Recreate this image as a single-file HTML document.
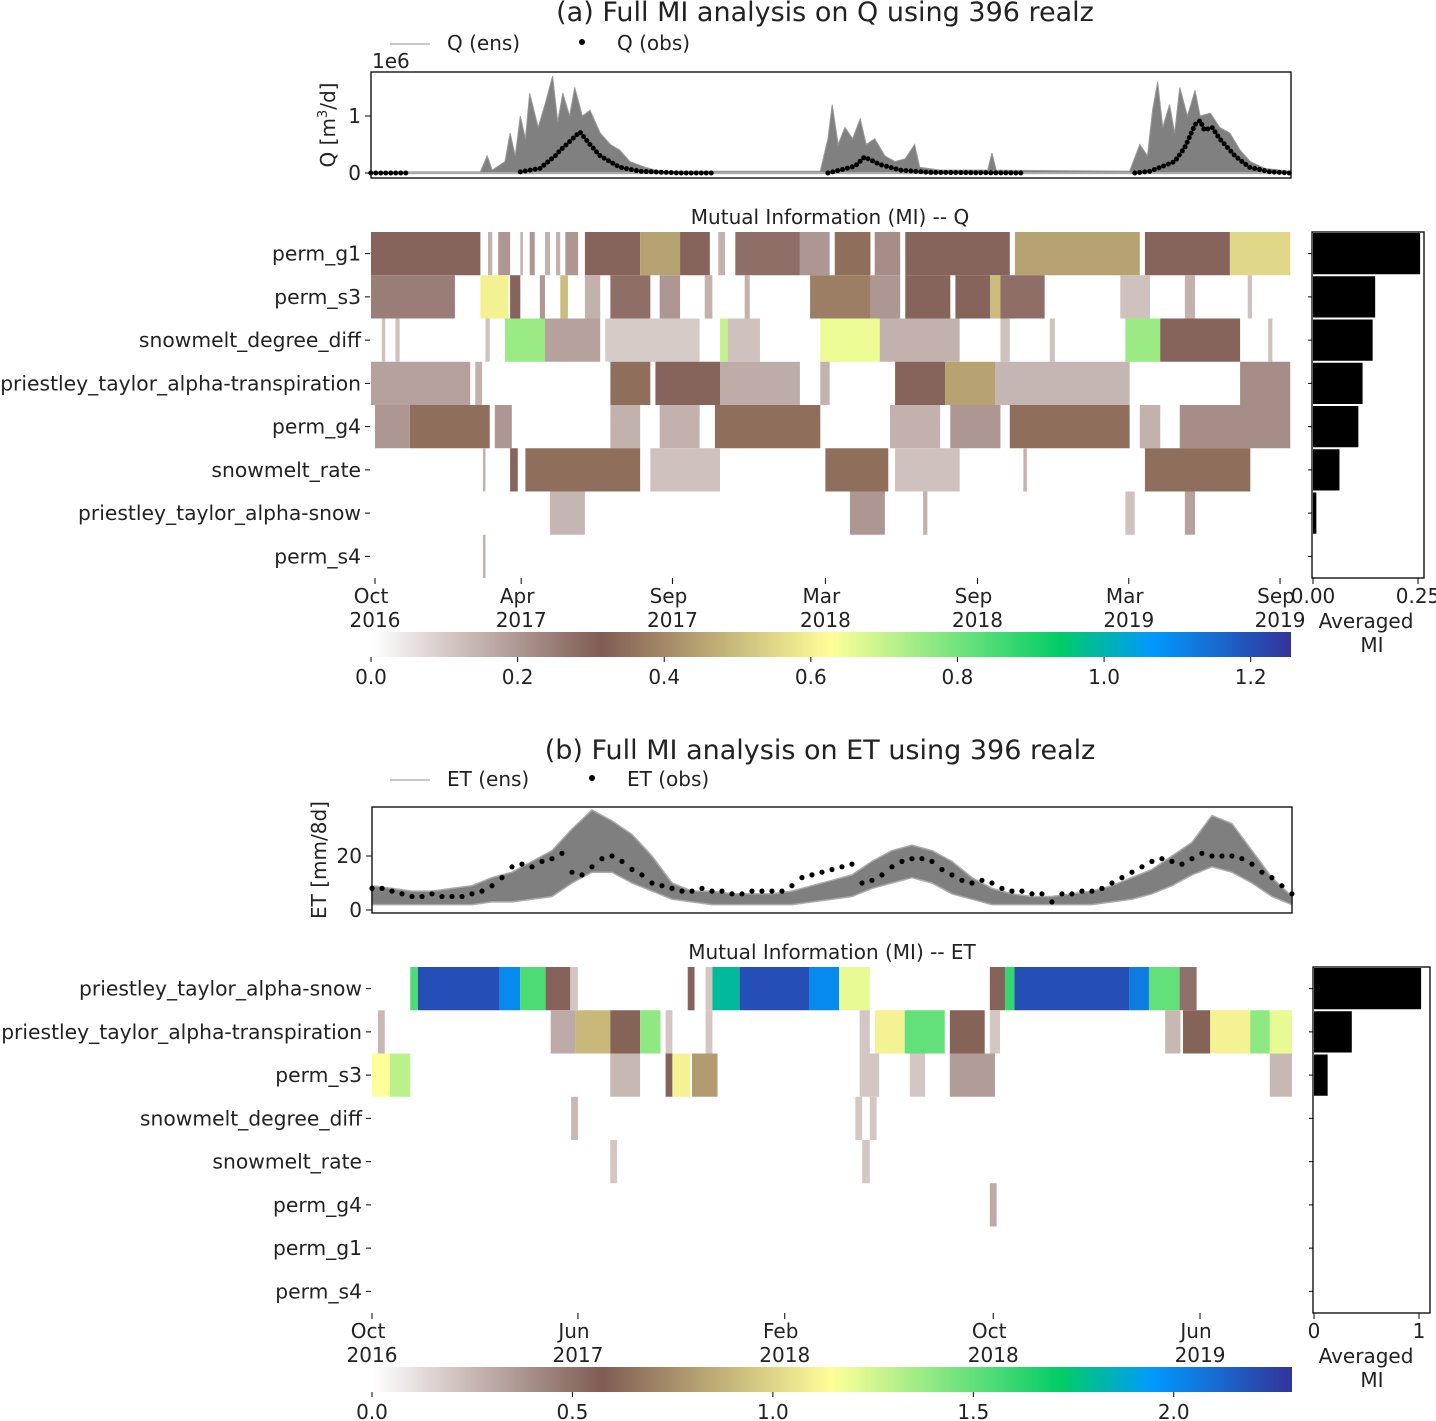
<!DOCTYPE html>
<html><head><meta charset="utf-8">
<style>
html,body{margin:0;padding:0;background:#fff;}
svg{display:block;font-family:"DejaVu Sans","Liberation Sans",sans-serif;}
</style></head>
<body>
<svg id="fig" width="1436" height="1421" viewBox="0 0 1436 1421" xmlns="http://www.w3.org/2000/svg">
<defs>
<linearGradient id="cmapA" x1="0" x2="1" y1="0" y2="0"></linearGradient>
<linearGradient id="cmapB" x1="0" x2="1" y1="0" y2="0"></linearGradient>
</defs>
</svg>
<script>
// ---------- DATA ----------
const paramsA = ["perm_g1","perm_s3","snowmelt_degree_diff","priestley_taylor_alpha-transpiration","perm_g4","snowmelt_rate","priestley_taylor_alpha-snow","perm_s4"];
const avgMiA = [0.255,0.148,0.142,0.118,0.108,0.063,0.008,0.0];
const paramsB = ["priestley_taylor_alpha-snow","priestley_taylor_alpha-transpiration","perm_s3","snowmelt_degree_diff","snowmelt_rate","perm_g4","perm_g1","perm_s4"];
const avgMiB = [1.02,0.36,0.13,0.0,0.0,0.0,0.0,0.0];
// heatmap segments: [startDay, endDay, MI]
const segsA = [
 [[-5,124,0.3],[133,138,0.15],[145,159,0.2],[171,174,0.15],[182,188,0.2],[200,206,0.15],[213,218,0.15],[224,239,0.2],[247,312,0.3],[312,359,0.45],[359,394,0.3],[404,412,0.15],[424,500,0.28],[500,535,0.2],[541,583,0.35],[588,618,0.22],[624,747,0.3],[753,900,0.45],[906,1006,0.3],[1006,1077,0.55]],
 [[-5,94,0.25],[124,157,0.6],[159,171,0.3],[194,200,0.2],[218,227,0.5],[247,265,0.15],[277,324,0.28],[335,359,0.2],[388,397,0.15],[435,441,0.15],[512,583,0.38],[583,618,0.2],[624,677,0.3],[683,724,0.3],[724,736,0.5],[736,788,0.28],[877,912,0.12],[953,965,0.15],[1027,1032,0.12]],
 [[8,12,0.12],[24,29,0.12],[130,135,0.12],[153,200,0.75],[200,265,0.18],[271,382,0.1],[406,415,0.7],[415,453,0.12],[524,594,0.65],[594,688,0.15],[736,747,0.12],[794,800,0.12],[883,924,0.75],[924,1018,0.3],[1051,1056,0.12]],
 [[-5,112,0.18],[118,126,0.15],[277,324,0.35],[330,406,0.3],[406,500,0.16],[524,535,0.15],[612,671,0.3],[671,730,0.45],[730,888,0.14],[1018,1077,0.22]],
 [[0,41,0.2],[41,135,0.35],[141,161,0.2],[277,312,0.15],[335,382,0.15],[400,524,0.35],[606,665,0.15],[677,736,0.2],[747,888,0.35],[900,924,0.15],[947,1077,0.22]],
 [[127,130,0.15],[159,168,0.3],[177,312,0.35],[324,406,0.12],[530,604,0.35],[612,688,0.12],[763,767,0.15],[906,1030,0.35]],
 [[206,247,0.14],[559,600,0.2],[645,650,0.15],[883,894,0.12],[953,965,0.18]],
 [[127,130,0.15]]
];
const segsB = [
 [[45,54,1.55],[54,150,2.2],[150,174,2.0],[174,204,1.55],[204,233,0.55],[233,242,0.2],[371,379,0.55],[392,400,0.2],[400,432,1.8],[432,514,2.2],[514,549,2.0],[549,585,1.2],[726,744,0.55],[744,755,1.6],[755,890,2.2],[890,913,2.05],[913,949,1.5],[949,969,0.5]],
 [[7,15,0.25],[210,239,0.3],[239,280,0.9],[280,315,0.6],[315,339,1.4],[345,353,0.2],[392,400,0.2],[573,585,0.2],[591,626,1.1],[626,673,1.5],[679,720,0.6],[726,738,0.2],[932,950,0.25],[953,985,0.6],[985,1032,1.1],[1032,1055,1.4],[1055,1081,1.2]],
 [[0,21,1.15],[21,45,1.3],[280,315,0.25],[345,353,0.55],[353,374,1.1],[376,406,0.8],[573,596,0.2],[632,650,0.2],[679,732,0.35],[1055,1081,0.25]],
 [[234,242,0.25],[568,576,0.2],[585,593,0.2]],
 [[280,288,0.2],[576,585,0.2]],
 [[726,734,0.3]],
 [],
 []
];
// Q series (days since 1 Oct 2016, values in 1e6 m3/d)
const qEnsDays = [-5,124,132,138,153,159,165,171,177,182,192,200,209,215,221,229,235,244,253,265,277,288,300,318,335,524,533,538,545,553,562,571,578,588,600,612,624,635,641,665,721,726,731,888,900,909,915,921,927,935,941,947,956,965,971,983,994,1006,1018,1030,1047,1077];
const qEnsMax = [0.02,0.02,0.3,0.05,0.2,0.7,0.3,1.0,0.6,1.4,0.8,1.2,1.7,0.9,1.4,1.0,1.5,1.0,1.1,0.7,0.5,0.4,0.2,0.1,0.03,0.03,0.6,1.2,0.5,0.8,0.6,0.95,0.5,0.6,0.3,0.2,0.25,0.5,0.1,0.05,0.05,0.35,0.05,0.03,0.5,0.3,1.1,1.6,0.8,1.2,0.7,1.5,1.0,1.45,1.0,1.05,0.8,0.7,0.4,0.2,0.08,0.03];
const qObsDays = [-5,42,null,171,194,212,218,229,241,253,265,288,312,359,400,null,533,547,565,576,594,618,653,761,null,894,912,924,941,953,965,971,976,985,994,1012,1029,1053,1077];
const qObsVals = [0,0,null,0.02,0.08,0.3,0.4,0.55,0.72,0.5,0.3,0.1,0.03,0,0,null,0,0.05,0.12,0.28,0.15,0.05,0.01,0,null,0,0.03,0.1,0.2,0.45,0.85,0.92,0.75,0.8,0.6,0.3,0.1,0.02,0];
// ET series (mm/8d)
const etEnsStep = 23.5;
const etEnsMax = [9,8,7,7,8,9,12,14,18,22,30,37,33,28,20,10,7,7,6,6,6,7,9,11,13,18,22,24,22,18,12,8,6,5,5,6,7,9,12,15,20,25,35,32,22,12,5];
const etEnsMin = [2,2,2,2,2,2,3,3,4,5,10,14,14,10,7,4,3,2,2,2,2,2,3,4,5,8,10,12,10,6,4,2,2,2,2,2,2,3,4,6,9,13,16,14,10,5,2];
const etObsStep = 11.75;
const etObsVals = [8,8,7,6,5,5,6,5,5,5,6,7,9,12,16,17,16,18,19,21,14,13,16,19,20,18,15,13,10,9,8,7,7,8,7,7,6,6,7,7,7,7,9,12,13,14,15,16,17,10,11,13,16,18,19,19,18,15,13,11,10,11,10,8,7,7,6,6,3,6,6,7,7,8,10,12,14,16,18,19,18,17,19,21,20,20,20,19,17,14,12,9,6];
const tickLabelsA = [["Oct","2016",0],["Apr","2017",172],["Sep","2017",350],["Mar","2018",530],["Sep","2018",709],["Mar","2019",887],["Sep","2019",1065]];
const tickLabelsB = [["Oct","2016",0],["Jun","2017",242],["Feb","2018",485],["Oct","2018",730],["Jun","2019",973]];
const cbTicksA = [0,0.2,0.4,0.6,0.8,1.0,1.2];
const cbTicksB = [0,0.5,1.0,1.5,2.0];

// ---------- HELPERS ----------
const NS="http://www.w3.org/2000/svg";
const svg=document.getElementById('fig');
function mk(tag,attrs,parent){const e=document.createElementNS(NS,tag);for(const k in attrs)e.setAttribute(k,attrs[k]);(parent||svg).appendChild(e);return e;}
function txt(s,x,y,size,anchor,parent){const e=mk('text',{x:x,y:y,'font-size':size,'text-anchor':anchor||'start',fill:'#222'},parent);e.textContent=s;return e;}
const stops=[[0,[255,255,255]],[0.25,[128,92,84]],[0.5,[255,255,153]],[0.75,[0,204,102]],[0.85,[0,153,255]],[1,[51,51,153]]];
function cmap(t){t=Math.max(0,Math.min(1,t));for(let i=1;i<stops.length;i++){if(t<=stops[i][0]){const a=stops[i-1],b=stops[i];const f=(t-a[0])/(b[0]-a[0]);const c=a[1].map((v,j)=>Math.round(v+(b[1][j]-v)*f));return `rgb(${c[0]},${c[1]},${c[2]})`;}}return 'rgb(51,51,153)';}
['cmapA','cmapB'].forEach(id=>{const g=document.getElementById(id);stops.forEach(s=>{mk('stop',{offset:s[0],'stop-color':`rgb(${s[1].join(',')})`},g);});});

function panel(cfg){
  const G=mk('g',{});
  
  
  const xs=d=>cfg.x0+(d-cfg.d0)*cfg.pxPerDay;
  const t=txt(cfg.title,cfg.titleX,cfg.titleY,27,'middle',G);
  
  
  const lg=mk('g',{},G);
  
  
  const ll=mk('line',{x1:390,x2:430,y1:cfg.legY-6,y2:cfg.legY-6,stroke:'#c8c8c8','stroke-width':2},lg);
  
  
  const l1=txt(cfg.legEns,447,cfg.legY,20,'start',lg);
  
  
  const ld=mk('circle',{cx:cfg.legDotX,cy:cfg.legY-8,r:3,fill:'#000'},lg);
  
  
  const l2=txt(cfg.legObs,cfg.legDotX+35,cfg.legY,20,'start',lg);
  
  
  const ts=mk('g',{},G);
  
  
  const tb=cfg.ts;
  const ys=v=>tb.y0-v*tb.pxPerUnit;
  cfg.drawSeries(ts,xs,ys);
  const box=mk('rect',{x:cfg.x0b,y:tb.top,width:920,height:tb.bottom-tb.top,fill:'none',stroke:'#000','stroke-width':1.3},ts);
  
  
  tb.ticks.forEach(v=>{
    const tk=mk('line',{x1:cfg.x0b-6,x2:cfg.x0b,y1:ys(v),y2:ys(v),stroke:'#000'},ts);
    
    
    const tl=txt(String(v),cfg.x0b-10,ys(v)+7,20,'end',ts);
    
    
  });
  if(tb.exp){const e=txt(tb.exp,372,68,20,'start',ts);}
  const yl=mk('text',{x:0,y:0,'font-size':20,'text-anchor':'middle',fill:'#222',transform:`translate(${tb.labX},${(tb.top+tb.bottom)/2}) rotate(-90)`},ts);
  yl.innerHTML=tb.label;
  
  
  const hm=mk('g',{},G);
  
  
  const ht=txt(cfg.hmTitle,cfg.hmTitleX,cfg.hTop-8,20,'middle',hm);
  
  
  const rh=(cfg.hBot-cfg.hTop)/8;
  cfg.params.forEach((p,i)=>{
    const y=cfg.hTop+i*rh;
    cfg.segs[i].forEach(s=>{
      const x1=Math.max(cfg.x0b,xs(s[0])),x2=Math.min(cfg.x0b+920,xs(s[1]));
      const r=mk('rect',{x:x1,y:y,width:Math.max(1.5,x2-x1),height:rh,fill:cmap(s[2]/cfg.cmax)},hm);
      
      
    });
    const tk=mk('line',{x1:cfg.x0b-6,x2:cfg.x0b-1,y1:y+rh/2,y2:y+rh/2,stroke:'#000'},hm);
    
    
    const lb=txt(p,cfg.x0b-10,y+rh/2+7,20.3,'end',hm);
    
    
  });
  cfg.xticks.forEach(tk=>{
    const x=xs(tk[2]);
    const m=mk('line',{x1:x,x2:x,y1:cfg.hBot,y2:cfg.hBot+6,stroke:'#000'},hm);
    
    
    const a=txt(tk[0],x-4,cfg.hBot+25,20,'middle',hm);
    
    
    const b=txt(tk[1],x,cfg.hBot+49,20,'middle',hm);
    
    
  });
  const bc=mk('g',{},G);
  
  
  const bx0=cfg.bar.x0, bs=cfg.bar.pxPerUnit;
  cfg.avg.forEach((v,i)=>{
    const y=cfg.hTop+i*rh;
    if(v>0){const b=mk('rect',{x:bx0,y:y+1,width:v*bs,height:rh-2,fill:'#000'},bc);
    
    }
    const tk=mk('line',{x1:bx0-5,x2:bx0-1,y1:y+rh/2,y2:y+rh/2,stroke:'#000'},bc);
    
    
  });
  const bf=mk('rect',{x:bx0-1,y:cfg.hTop,width:cfg.bar.w,height:cfg.hBot-cfg.hTop,fill:'none',stroke:'#000','stroke-width':1.3},bc);
  
  
  cfg.bar.ticks.forEach(t=>{
    const x=bx0+t[0]*bs;
    const m=mk('line',{x1:x,x2:x,y1:cfg.hBot,y2:cfg.hBot+6,stroke:'#000'},bc);
    
    
    const l=txt(t[1],x,cfg.hBot+25,20,'middle',bc);
    
    
  });
  const a1=txt('Averaged',1366,cfg.hBot+50,20,'middle',bc);
  
  
  const a2=txt('MI',1372,cfg.hBot+74,20,'middle',bc);
  
  
  const cb=mk('g',{},G);
  
  
  const cr=mk('rect',{x:cfg.x0b,y:cfg.cbY,width:920,height:25,fill:`url(#${cfg.grad})`},cb);
  
  
  cfg.cbTicks.forEach(v=>{
    const x=cfg.x0b+v/cfg.cmax*920;
    const m=mk('line',{x1:x,x2:x,y1:cfg.cbY+25,y2:cfg.cbY+30,stroke:'#000'},cb);
    
    
    const l=txt(v.toFixed(1),x,cfg.cbY+52,20,'middle',cb);
    
    
  });
}

panel({name:'panel-a-q',title:'(a) Full MI analysis on Q using 396 realz',titleX:825,titleY:21,
  legY:50,legEns:'Q (ens)',legObs:'Q (obs)',legDotX:582,
  x0:375,d0:0,pxPerDay:0.8498,x0b:371,
  ts:{top:72,bottom:178,y0:173,pxPerUnit:57,ticks:[0,1],exp:'1e6',labX:335,label:'Q [m<tspan font-size="13" dy="-8">3</tspan><tspan dy="8">/d]</tspan>'},
  drawSeries:(g,xs,ys)=>{
    let d=`M${xs(qEnsDays[0])},${ys(-0.01)}`;
    qEnsDays.forEach((dd,i)=>{d+=` L${xs(dd)},${ys(qEnsMax[i])}`;});
    d+=` L${xs(qEnsDays[qEnsDays.length-1])},${ys(-0.01)} Z`;
    const p=mk('path',{d:d,fill:'#808080',stroke:'#999','stroke-width':1},g);
    
    
    const base=mk('line',{x1:371,x2:1291,y1:ys(0),y2:ys(0),stroke:'#aaa','stroke-width':2},g);
    
    
    let seg=[];const flush=()=>{if(seg.length>1){const pl=mk('polyline',{points:seg.join(' '),fill:'none',stroke:'#000','stroke-width':5,'stroke-linecap':'round','stroke-dasharray':'0 5'},g);
      
      }seg=[];};
    qObsDays.forEach((dd,i)=>{if(dd===null){flush();}else seg.push(`${xs(dd)},${ys(qObsVals[i])}`);});flush();
  },
  hmTitle:'Mutual Information (MI) -- Q',hmTitleX:830,hTop:232,hBot:578,
  params:paramsA,segs:segsA,avg:avgMiA,cmax:1.255,xticks:tickLabelsA,
  bar:{x0:1313,pxPerUnit:420,w:112,ticks:[[0,'0.00'],[0.25,'0.25']]},
  grad:'cmapA',cbY:632,cbTicks:cbTicksA});

panel({name:'panel-b-et',title:'(b) Full MI analysis on ET using 396 realz',titleX:820,titleY:759,
  legY:786,legEns:'ET (ens)',legObs:'ET (obs)',legDotX:592,
  x0:372,d0:0,pxPerDay:0.851,x0b:372,
  ts:{top:807,bottom:913,y0:910,pxPerUnit:2.7,ticks:[0,20],exp:null,labX:326,label:'ET [mm/8d]'},
  drawSeries:(g,xs,ys)=>{
    let d='';
    etEnsMax.forEach((v,i)=>{d+=(i?' L':'M')+`${xs(i*etEnsStep)},${ys(v)}`;});
    for(let i=etEnsMin.length-1;i>=0;i--){d+=` L${xs(i*etEnsStep)},${ys(etEnsMin[i])}`;}
    d+=' Z';
    const p=mk('path',{d:d,fill:'#7f7f7f',stroke:'#aaa','stroke-width':1.5},g);
    
    
    etObsVals.forEach((v,i)=>{
      const c=mk('circle',{cx:xs(i*etObsStep),cy:ys(v),r:2.6,fill:'#000'},g);
      
      
    });
  },
  hmTitle:'Mutual Information (MI) -- ET',hmTitleX:832,hTop:967,hBot:1313,
  params:paramsB,segs:segsB,avg:avgMiB,cmax:2.295,xticks:tickLabelsB,
  bar:{x0:1314,pxPerUnit:105,w:117,ticks:[[0,'0'],[1,'1']]},
  grad:'cmapB',cbY:1367,cbTicks:cbTicksB});
</script>
</body></html>
